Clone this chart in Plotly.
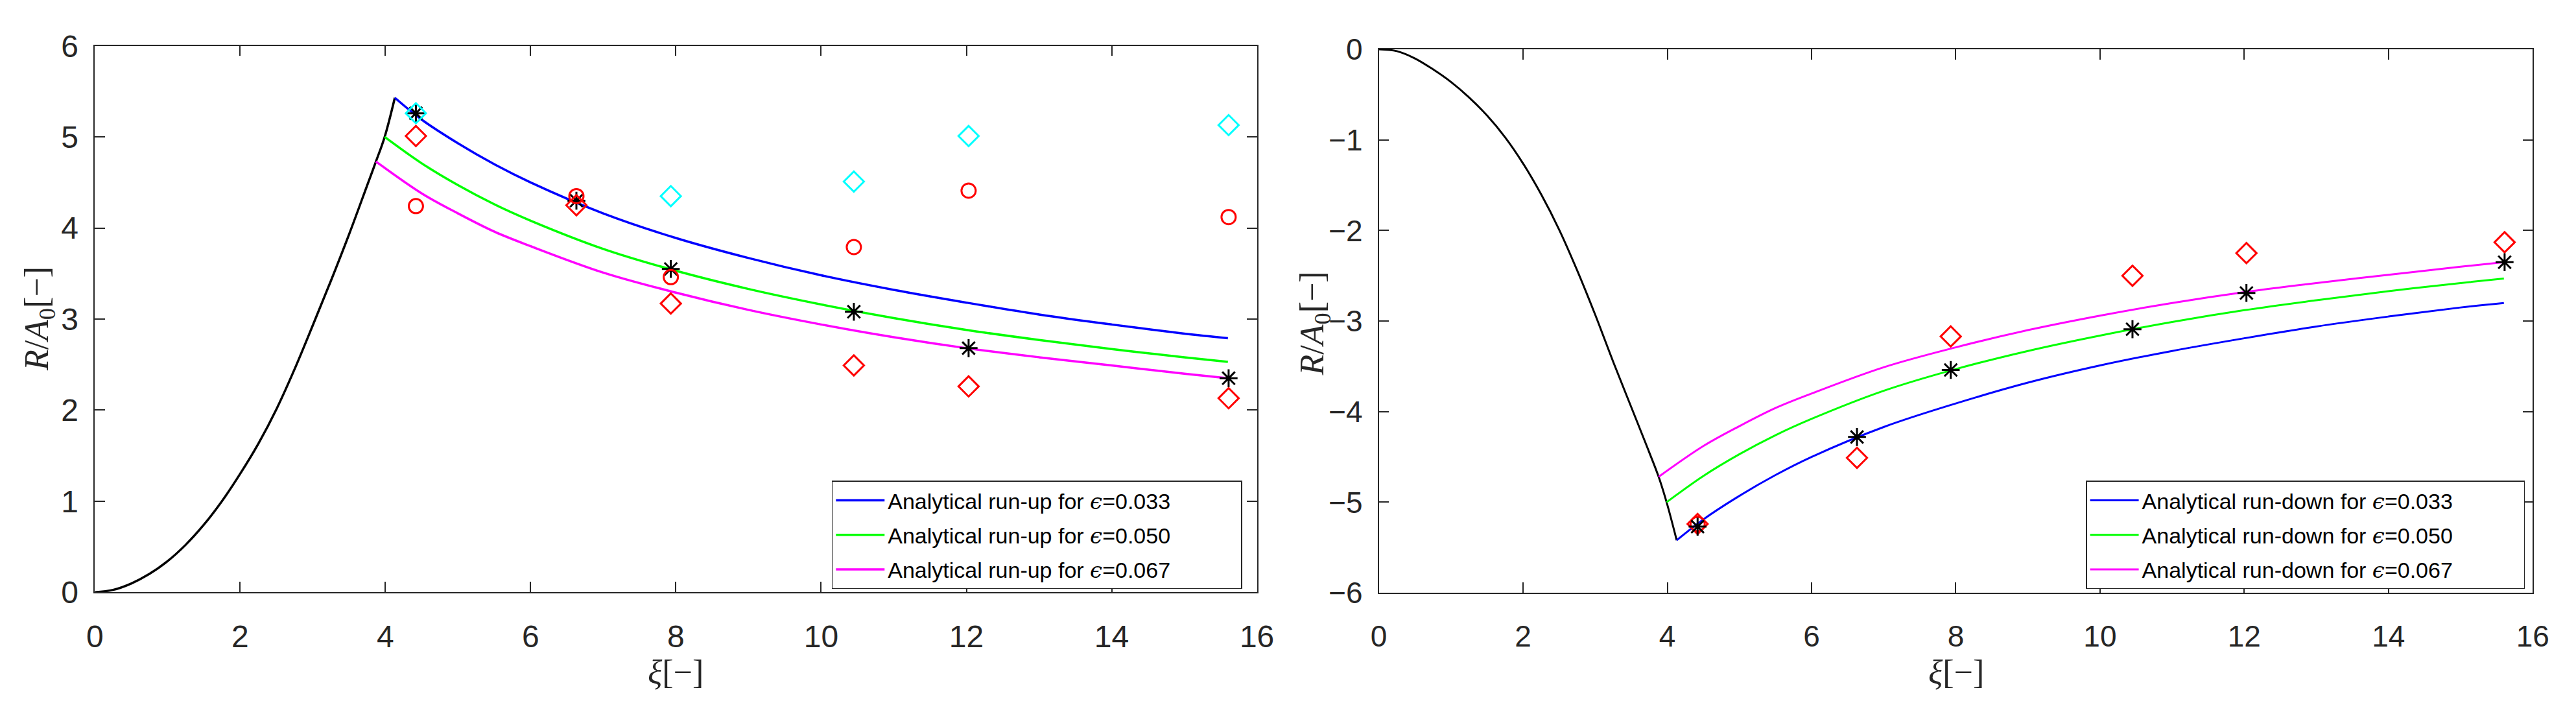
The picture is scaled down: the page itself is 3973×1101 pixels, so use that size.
import plotly.graph_objects as go

# ---- data ----
# left panel: run-up
xi_up_black = [0, 0.25, 0.5, 0.75, 1.0, 1.25, 1.5, 1.75, 2.0, 2.25, 2.5, 2.75, 3.0, 3.25, 3.5, 3.75, 3.87, 3.99, 4.13]
r_up_black = [0, 0.025, 0.095, 0.20, 0.34, 0.52, 0.74, 1.0, 1.30, 1.63, 2.01, 2.45, 2.93, 3.42, 3.93, 4.47, 4.73, 5.0, 5.43]

xi_blue = [4.13, 4.5, 5, 5.5, 6, 7, 8, 9, 10, 11, 12, 13, 14, 15, 15.6]
up_blue = [5.43, 5.19, 4.93, 4.70, 4.50, 4.16, 3.89, 3.67, 3.48, 3.32, 3.18, 3.05, 2.94, 2.84, 2.79]
xi_green = [3.99, 4.5, 5, 5.5, 6, 7, 8, 9, 10, 11, 12, 13, 14, 15, 15.6]
up_green = [5.00, 4.71, 4.47, 4.26, 4.08, 3.77, 3.53, 3.33, 3.16, 3.01, 2.88, 2.77, 2.67, 2.58, 2.53]
xi_magenta = [3.87, 4.5, 5, 5.5, 6, 7, 8, 9, 10, 11, 12, 13, 14, 15, 15.6]
up_magenta = [4.73, 4.38, 4.16, 3.96, 3.80, 3.51, 3.29, 3.10, 2.94, 2.80, 2.68, 2.58, 2.49, 2.40, 2.35]

xi_exp = [4.42, 6.63, 7.93, 10.45, 12.03, 15.61]
up_circle = [4.24, 4.35, 3.46, 3.79, 4.41, 4.12]
up_diamond = [5.01, 4.25, 3.17, 2.49, 2.26, 2.13]
up_cyan = [5.26, None, 4.35, 4.51, 5.01, 5.13]
up_star = [5.26, 4.30, 3.55, 3.08, 2.68, 2.35]

# right panel: run-down
xi_down_black = [0, 0.25, 0.5, 0.75, 1.0, 1.25, 1.5, 1.75, 2.0, 2.25, 2.5, 2.75, 3.0, 3.25, 3.5, 3.75, 3.88, 3.99, 4.13]
r_down_black = [0, -0.02, -0.10, -0.22, -0.36, -0.53, -0.73, -0.97, -1.26, -1.60, -1.99, -2.44, -2.93, -3.45, -3.95, -4.45, -4.72, -5.0, -5.42]

down_blue = [-5.42, -5.19, -4.93, -4.70, -4.50, -4.17, -3.91, -3.68, -3.49, -3.33, -3.19, -3.06, -2.95, -2.85, -2.80]
down_green = [-5.00, -4.71, -4.47, -4.26, -4.08, -3.77, -3.53, -3.33, -3.16, -3.01, -2.88, -2.77, -2.67, -2.58, -2.53]
xi_magenta_r = [3.88, 4.5, 5, 5.5, 6, 7, 8, 9, 10, 11, 12, 13, 14, 15, 15.6]
down_magenta = [-4.72, -4.38, -4.16, -3.96, -3.80, -3.51, -3.29, -3.10, -2.94, -2.80, -2.68, -2.58, -2.49, -2.40, -2.35]

down_diamond = [-5.24, -4.51, -3.17, -2.50, -2.25, -2.13]
down_circle = [-5.24, None, None, None, None, None]
down_star = [-5.27, -4.28, -3.54, -3.09, -2.69, -2.35]

eps = ["0.033", "0.050", "0.067"]

BLUE, GREEN, MAGENTA = "#0000FF", "#00FF00", "#FF00FF"
RED, CYAN = "#FF0000", "#00FFFF"
AX = "#262626"
EPS = '<span style="font-family:DejaVu Serif"><i>ϵ</i></span>'
PAD = "\u00a0" * 11  # matlab leaves room on the right of the legend text

fig = go.Figure()


def line(x, y, color, xa, ya, name=None, legend=None, width=3.5):
    fig.add_trace(go.Scatter(
        x=x, y=y, mode="lines", line=dict(color=color, width=width, shape="spline", smoothing=1.0),
        xaxis=xa, yaxis=ya, name=name, showlegend=name is not None,
        legend=legend, legendgroup=name, hoverinfo="skip"))


def marks(x, y, symbol, color, size, xa, ya, width=3):
    fig.add_trace(go.Scatter(
        x=x, y=y, mode="markers", xaxis=xa, yaxis=ya, showlegend=False,
        marker=dict(symbol=symbol, size=size, color=color, line=dict(color=color, width=width))))


# left
line(xi_up_black, r_up_black, "black", "x", "y")
line(xi_blue, up_blue, BLUE, "x", "y", f"Analytical run-up for {EPS}={eps[0]}{PAD}", "legend")
line(xi_green, up_green, GREEN, "x", "y", f"Analytical run-up for {EPS}={eps[1]}{PAD}", "legend")
line(xi_magenta, up_magenta, MAGENTA, "x", "y", f"Analytical run-up for {EPS}={eps[2]}{PAD}", "legend")
marks(xi_exp, up_star, "asterisk-open", "black", 23, "x", "y")
marks(xi_exp, up_cyan, "diamond-open", CYAN, 24, "x", "y")
marks(xi_exp, up_diamond, "diamond-open", RED, 24, "x", "y")
marks(xi_exp, up_circle, "circle-open", RED, 22, "x", "y")

# right
line(xi_down_black, r_down_black, "black", "x2", "y2", width=3)
line(xi_blue, down_blue, BLUE, "x2", "y2", f"Analytical run-down for {EPS}={eps[0]}{PAD}", "legend2", 3)
line(xi_green, down_green, GREEN, "x2", "y2", f"Analytical run-down for {EPS}={eps[1]}{PAD}", "legend2", 3)
line(xi_magenta_r, down_magenta, MAGENTA, "x2", "y2", f"Analytical run-down for {EPS}={eps[2]}{PAD}", "legend2", 3)
marks(xi_exp, down_circle, "circle-open", RED, 22, "x2", "y2")
marks(xi_exp, down_diamond, "diamond-open", RED, 24, "x2", "y2")
marks(xi_exp, down_star, "asterisk-open", "black", 23, "x2", "y2")

axis = dict(showgrid=False, zeroline=False, showline=True, linecolor=AX, linewidth=1.5,
            mirror="ticks", ticks="inside", ticklen=16, tickwidth=1.5, tickcolor=AX,
            tickfont=dict(family="Liberation Sans, Arial, sans-serif", size=48, color=AX))
xa = dict(axis, range=[0, 16], tick0=0, dtick=2, ticklabelstandoff=26)
ya = dict(axis, tick0=0, dtick=1, ticklabelstandoff=14)

leg = dict(font=dict(family="Liberation Sans, Arial, sans-serif", size=34, color="black"),
           bgcolor="white", bordercolor=AX, borderwidth=1.5, xanchor="right", yanchor="bottom",
           itemwidth=75, tracegroupgap=6, traceorder="grouped")

fig.update_layout(
    width=3973, height=1101, margin=dict(l=0, r=0, t=0, b=0),
    paper_bgcolor="white", plot_bgcolor="white",
    xaxis=dict(xa, domain=[0.0339, 0.4896], anchor="y"),
    yaxis=dict(ya, domain=[0.1535, 0.9573], range=[0, 6], anchor="x"),
    xaxis2=dict(xa, domain=[0.5374, 0.9899], anchor="y2", tickfont=dict(axis["tickfont"], size=46)),
    yaxis2=dict(ya, domain=[0.1526, 0.9522], range=[-6, 0], anchor="x2", tickfont=dict(axis["tickfont"], size=46)),
    legend=dict(leg, x=0.4838, y=0.158),
    legend2=dict(leg, x=0.9868, y=0.158),
)

title_font = dict(family="Liberation Serif, Times New Roman, serif", size=52, color=AX)
ylab = "<i>R</i>/<i>A</i><sub>0</sub>[−]"
xlab = "<i>ξ</i>[−]"
for x, y in [(0.0121, 0.5558), (0.5122, 0.5486)]:
    fig.add_annotation(text=ylab, x=x, y=y, xref="paper", yref="paper", textangle=-90,
                       showarrow=False, font=title_font, xanchor="center", yanchor="middle")
for x in [0.2617, 0.7637]:
    fig.add_annotation(text=xlab, x=x, y=0.036, xref="paper", yref="paper",
                       showarrow=False, font=title_font, xanchor="center", yanchor="middle")

fig.write_html("out.html", config={"displayModeBar": False},
               post_script="document.body.style.margin='0';")
